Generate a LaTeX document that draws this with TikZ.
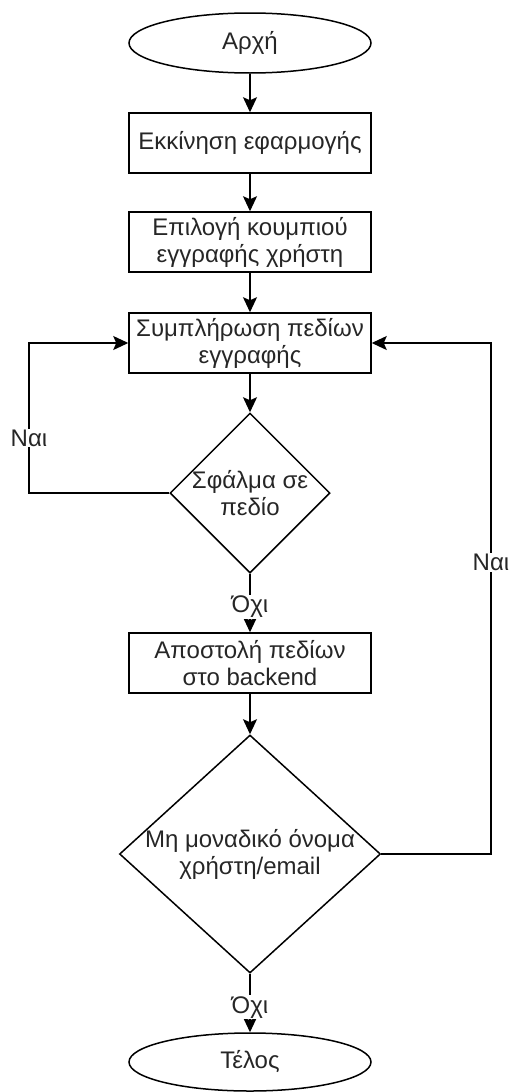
\documentclass[tikz,border=0pt]{standalone}
\usepackage{fontspec}
\setmainfont{Liberation Sans}
\usetikzlibrary{shapes.geometric,arrows.meta}
\begin{document}
\begin{tikzpicture}[x=1pt,y=-1pt,
  every node/.style={font=\fontsize{24}{27}\selectfont, text=black!85},
  proc/.style={draw, line width=1.5pt, rectangle, minimum width=242pt, minimum height=60pt, align=center, inner sep=2pt},
  term/.style={draw, line width=1.5pt, ellipse, minimum width=242pt, minimum height=60pt, inner sep=0pt},
  dec/.style={draw, line width=1.5pt, diamond, inner sep=0pt},
  conn/.style={line width=1.5pt, -{Stealth[length=15pt,width=14pt,inset=3pt]}},
  lbl/.style={fill=white, inner sep=1pt}
]
\useasboundingbox (0,0) rectangle (509,1092);
\node[term] (start) at (250,43) {Αρχή};
\node[proc] (b1) at (250,143) {Εκκίνηση εφαρμογής};
\node[proc] (b2) at (250,242) {Επιλογή κουμπιού\\εγγραφής χρήστη};
\node[proc] (b3) at (250,343) {Συμπλήρωση πεδίων\\εγγραφής};
\node[dec, minimum width=160pt, minimum height=160pt,
  label={[align=center, font=\fontsize{24}{27}\selectfont, text=black!85]center:Σφάλμα σε\\πεδίο}] (d1) at (250,493) {};
\node[proc] (b4) at (250,663) {Αποστολή πεδίων\\στο backend};
\node[dec, minimum width=261pt, minimum height=238pt, aspect=1.1,
  label={[align=center, font=\fontsize{24}{27}\selectfont, text=black!85]center:Μη μοναδικό όνομα\\χρήστη/email}] (d2) at (250,854) {};
\node[term, minimum height=58pt] (end) at (250,1062) {Τέλος};

\coordinate (l1) at (29,493);
\coordinate (l2) at (29,343);
\coordinate (r1) at (491,854);
\coordinate (r2) at (491,343);

\draw[conn] (start) -- (b1);
\draw[conn] (b1) -- (b2);
\draw[conn] (b2) -- (b3);
\draw[conn] (b3) -- (d1);
\draw[conn] (d1.south) -- node[lbl, pos=0.57]{Όχι} (b4.north);
\draw[conn] (b4) -- (d2);
\draw[conn] (d2.south) -- node[lbl, pos=0.57]{Όχι} (end.north);
\draw[conn] (d1.west) -- (l1) -- node[lbl, pos=0.367]{Ναι} (l2) -- (b3.west);
\draw[conn] (d2.east) -- (r1) -- node[lbl, pos=0.571]{Ναι} (r2) -- (b3.east);
\end{tikzpicture}
\end{document}
